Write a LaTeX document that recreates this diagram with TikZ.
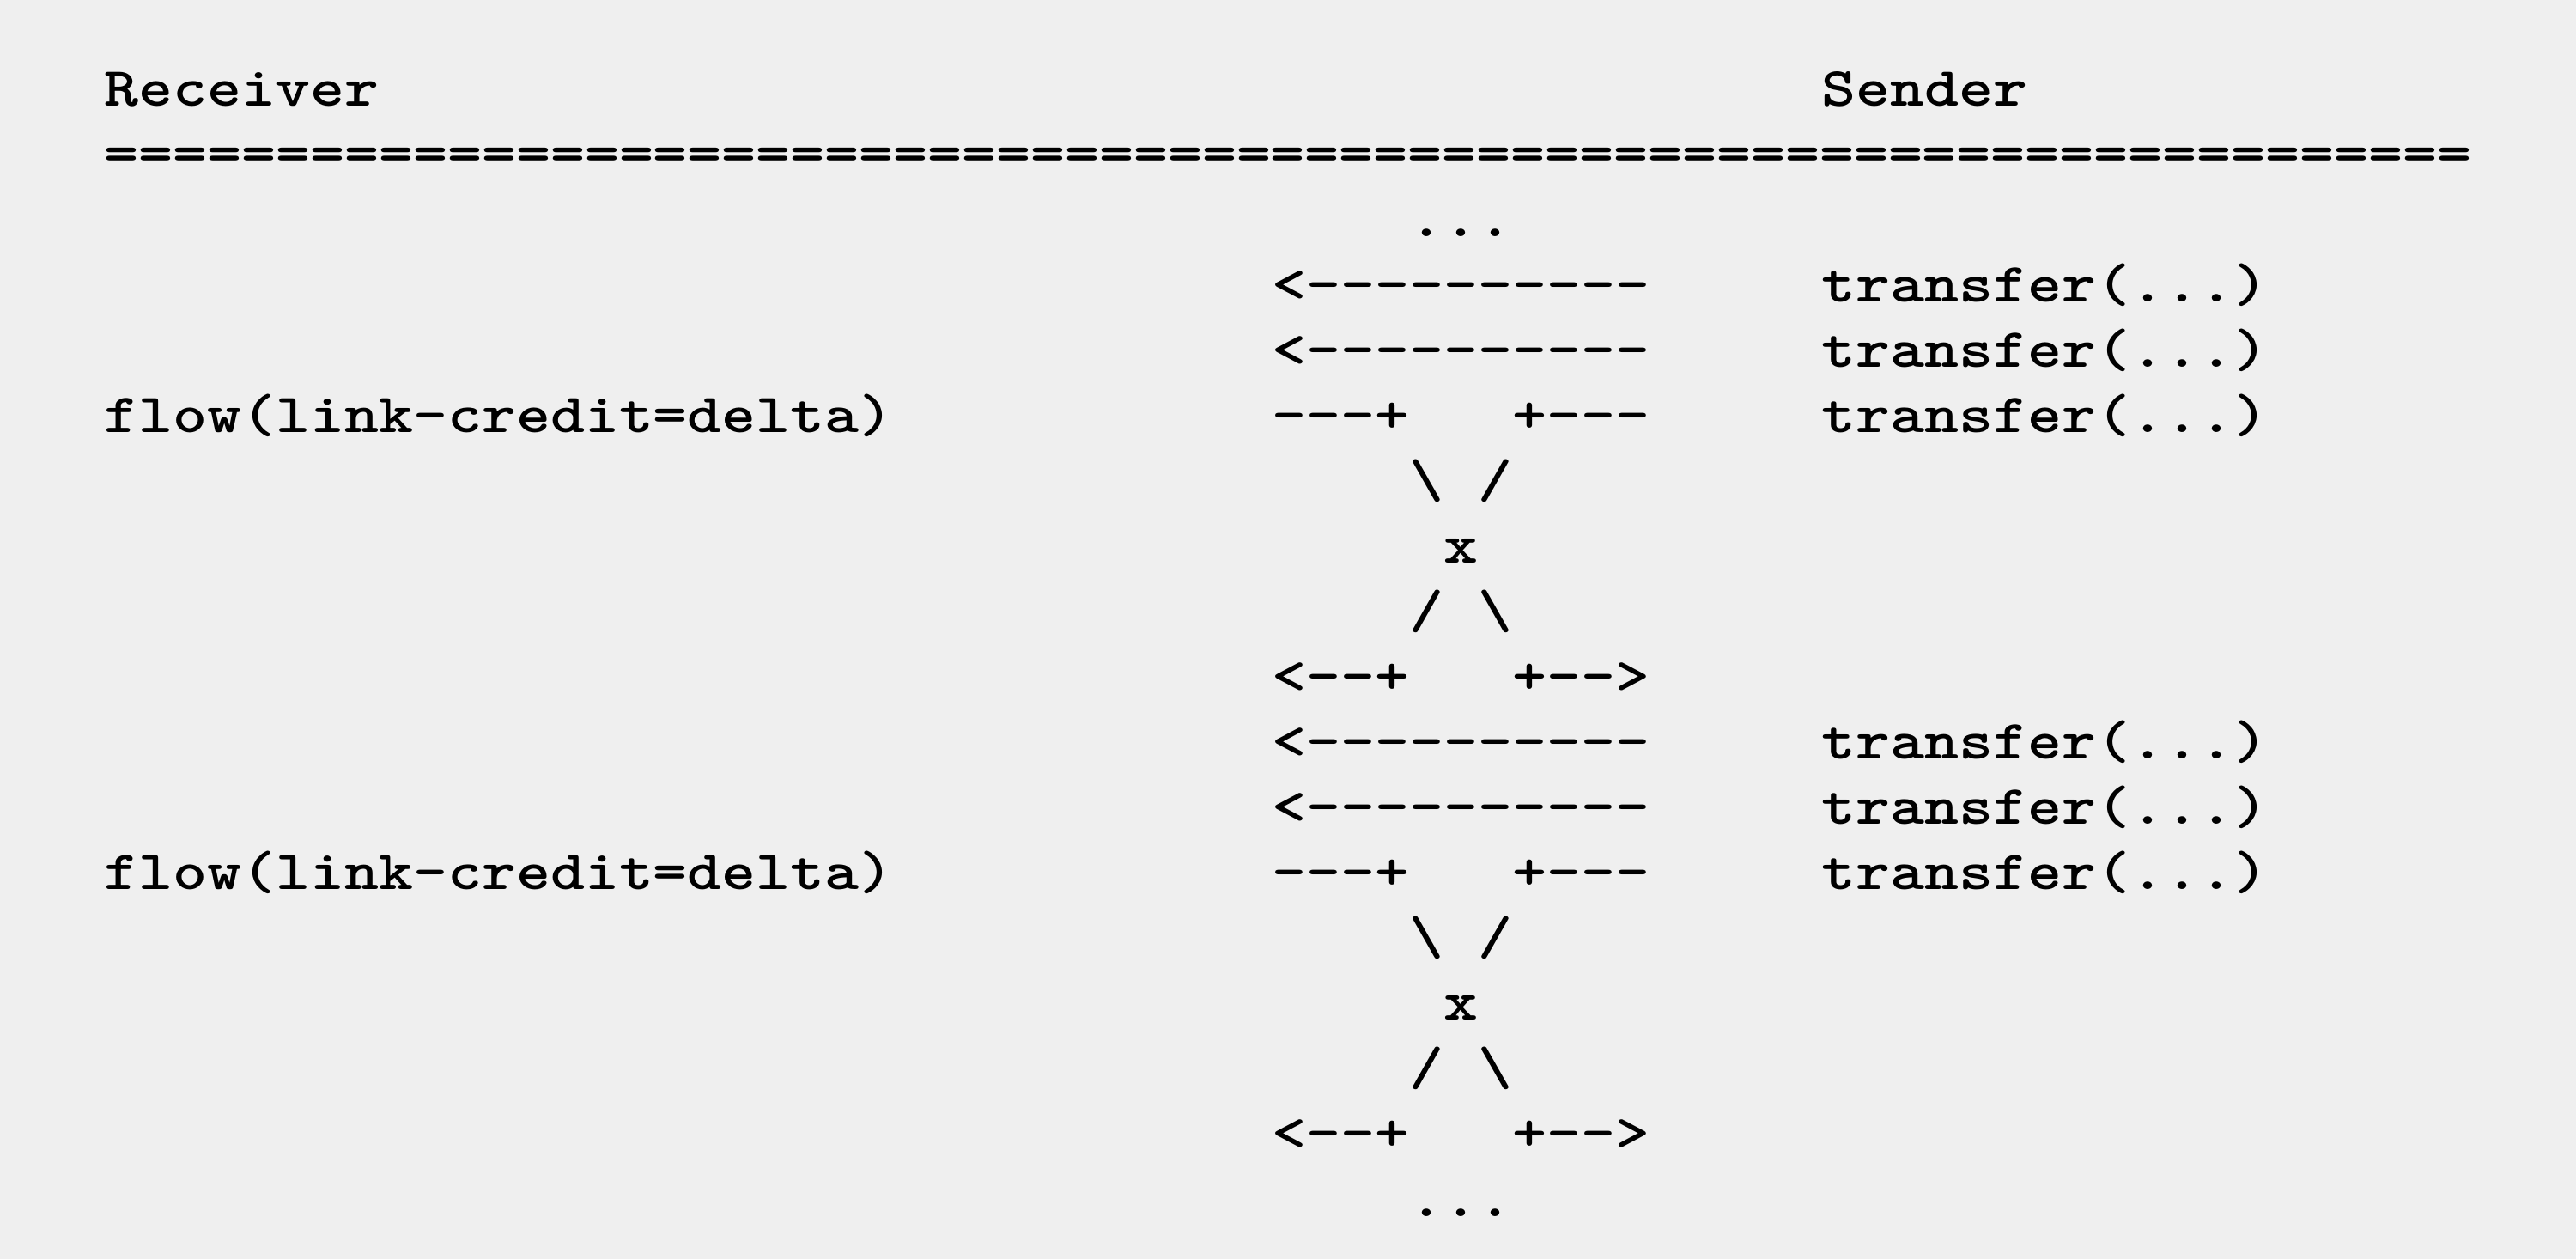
\documentclass[tikz,border=0pt]{standalone}
\usepackage{fontspec}
\usepackage{xcolor}
\usepackage{tikz}
\newfontfamily\asciifont{lmmonolt10-bold.otf}
\definecolor{bg}{HTML}{EFEFEF}
\definecolor{ink}{HTML}{000000}
\tikzset{
  txt/.style={anchor=base west, inner sep=0pt, text=ink,
    font=\asciifont\fontsize{18.3}{20}\selectfont, xscale=1.183},
}

\begin{document}
\begin{tikzpicture}
  \fill[bg] (0,0) rectangle (30,-14.66);

  % one unit = one character cell, one row = one text line
  \begin{scope}[x=0.4cm, y=-0.7606cm, shift={(1.21cm,-1.23cm)}]
    \node[txt] (recv) at (0,0) {Receiver};
    \node[txt] (send) at (50,0) {Sender};
    \node[txt] (rule) at (0,1) {=====================================================================};
    \node[txt] (dotsTop) at (38,2) {...};

    \foreach \b/\r in {one/3, two/10} {
      \node[txt] (\b-in1) at (34,\r) {<----------};
      \node[txt] (\b-in2) at (34,\r+1) {<----------};
      \node[txt] (\b-cutL) at (34,\r+2) {---+};
      \node[txt] (\b-cutR) at (41,\r+2) {+---};
      \node[txt] (\b-tr1) at (50,\r) {transfer(...)};
      \node[txt] (\b-tr2) at (50,\r+1) {transfer(...)};
      \node[txt] (\b-tr3) at (50,\r+2) {transfer(...)};
      \node[txt] (\b-flow) at (0,\r+2) {flow(link-credit=delta)};
      % crossing
      \node[txt] (\b-upL) at (38,\r+3) {\textbackslash};
      \node[txt] (\b-upR) at (40,\r+3) {/};
      \node[txt] (\b-x) at (39,\r+4) {x};
      \node[txt] (\b-dnL) at (38,\r+5) {/};
      \node[txt] (\b-dnR) at (40,\r+5) {\textbackslash};
      \node[txt] (\b-outL) at (34,\r+6) {<--+};
      \node[txt] (\b-outR) at (41,\r+6) {+-->};
    }

    \node[txt] (dotsEnd) at (38,17) {...};
  \end{scope}
\end{tikzpicture}
\end{document}
